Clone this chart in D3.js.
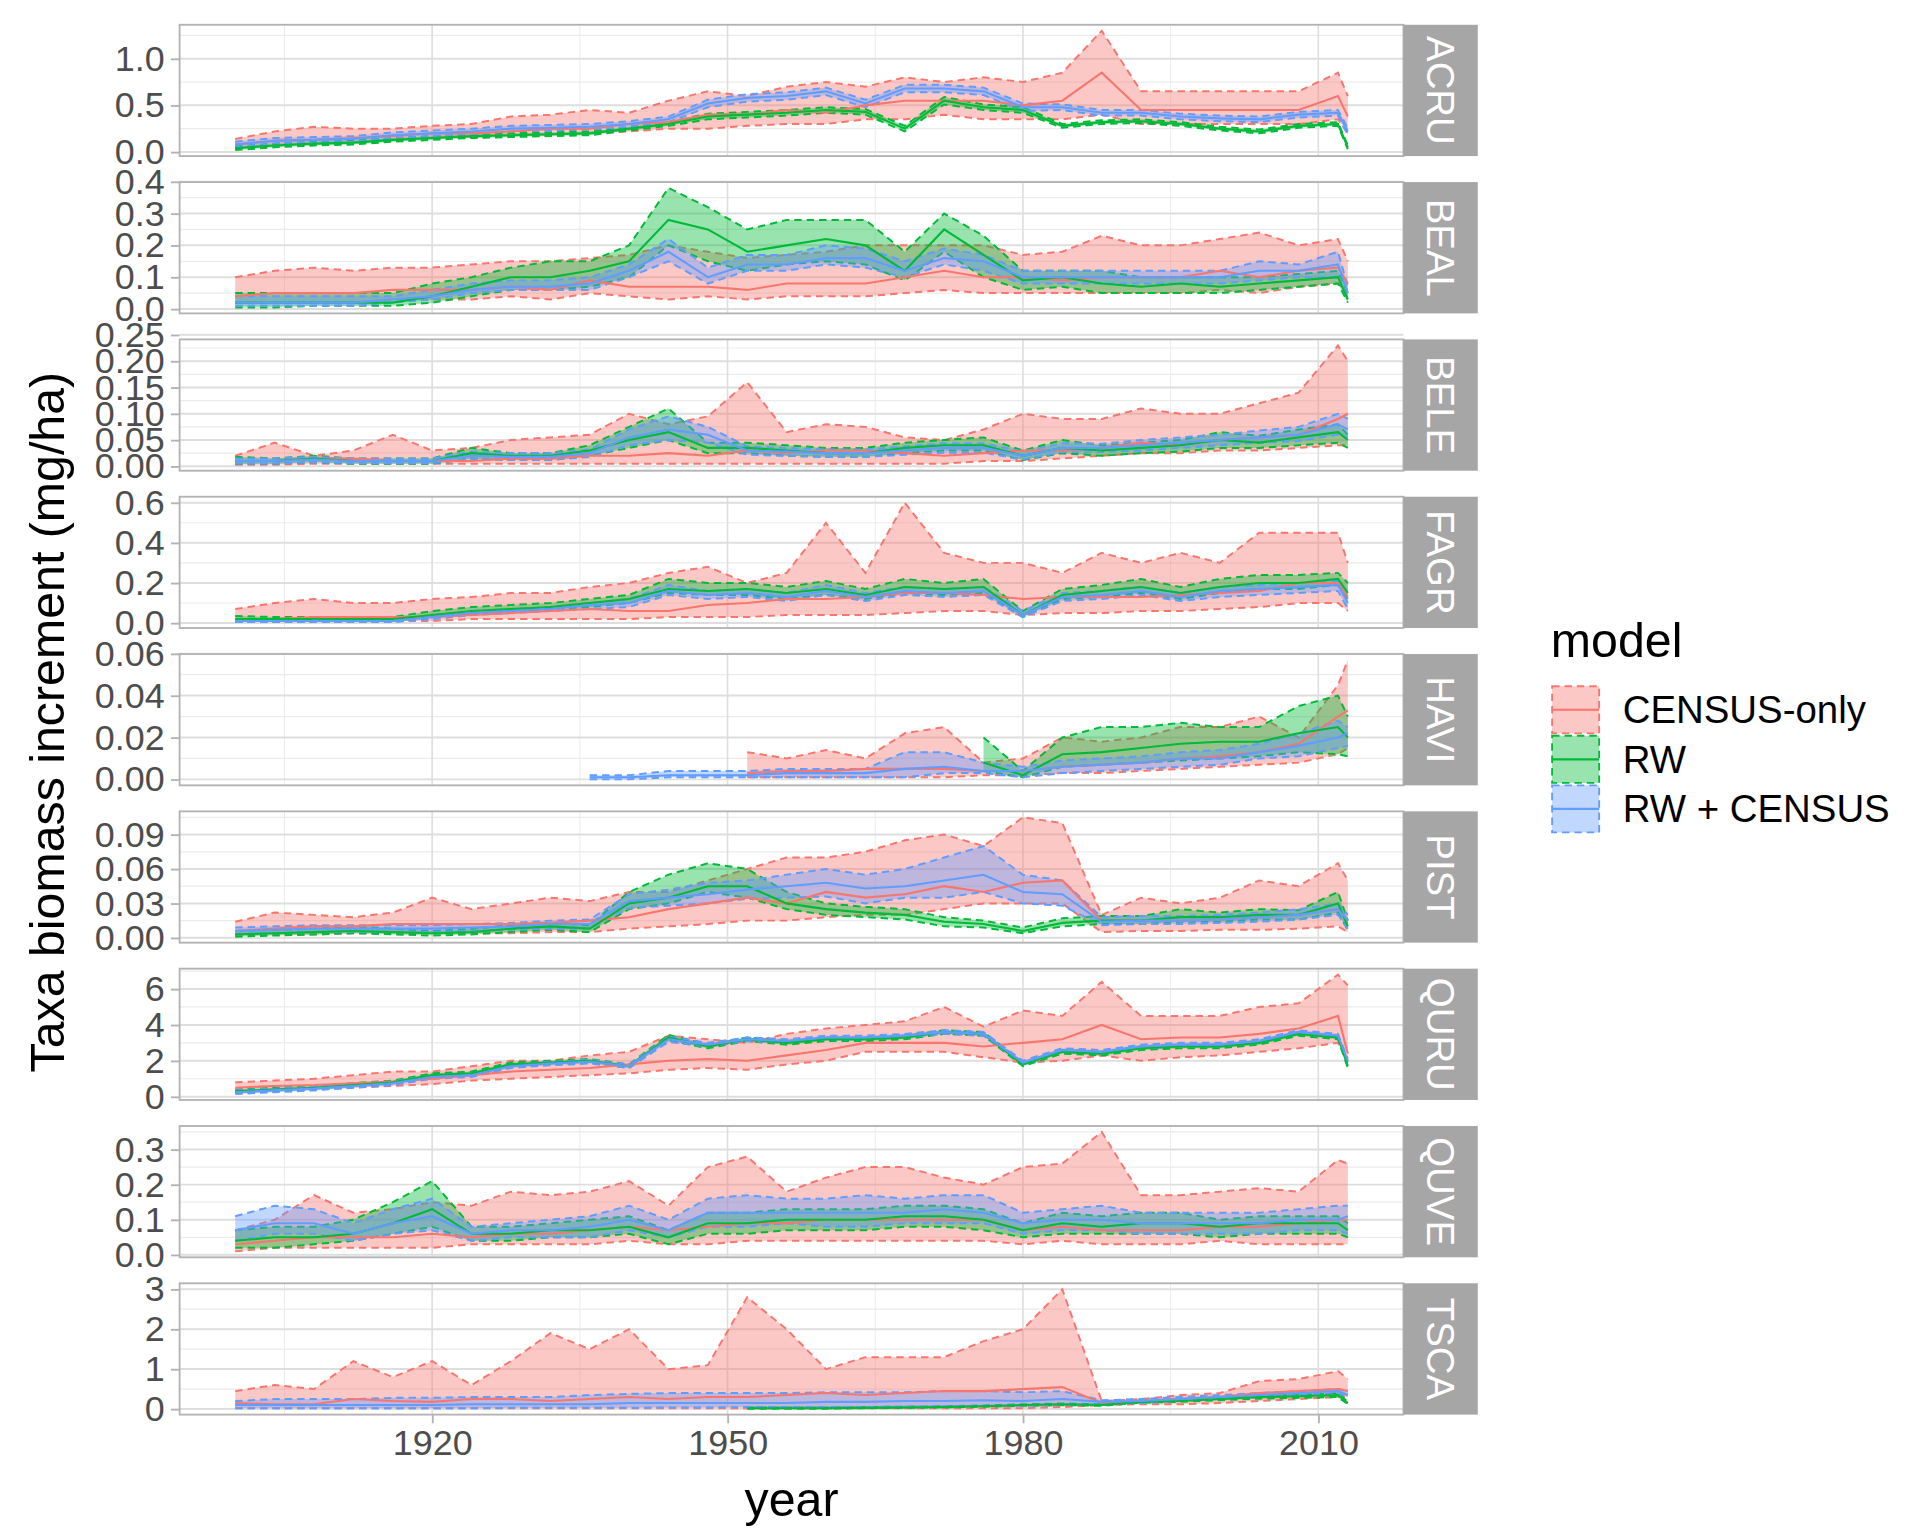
<!DOCTYPE html>
<html><head><meta charset="utf-8">
<script src="https://cdn.jsdelivr.net/npm/d3@7"></script>
<style>body{margin:0;background:#fff}text{font-family:"Liberation Sans",Arial,sans-serif}</style>
</head><body><svg id="c" width="1920" height="1536" viewBox="0 0 1550 1240"></svg>
<script>
const years=[1900,1904,1908,1912,1916,1920,1924,1928,1932,1936,1940,1944,1948,1952,1956,1960,1964,1968,1972,1976,1980,1984,1988,1992,1996,2000,2004,2008,2012,2013];
const taxa=["ACRU","BEAL","BELE","FAGR","HAVI","PIST","QURU","QUVE","TSCA"];
const models=["CENSUS-only","RW","RW + CENSUS"];
const colors=["#F8766D","#00BA38","#619CFF"];
// each: [lo, mean, hi]
const ACRU_CENSUS=[[.04,.08,.08,.1,.12,.15,.15,.17,.18,.2,.22,.25,.25,.28,.3,.3,.35,.35,.4,.35,.35,.35,.4,.3,.3,.3,.3,.3,.35,.2],
[.08,.12,.13,.15,.17,.2,.2,.22,.25,.25,.3,.32,.4,.4,.45,.42,.5,.55,.55,.55,.5,.55,.85,.45,.45,.45,.45,.45,.6,.38],
[.14,.22,.27,.25,.25,.28,.3,.38,.4,.45,.42,.55,.65,.6,.7,.75,.7,.8,.75,.8,.75,.85,1.3,.65,.65,.65,.65,.65,.85,.6]];
const ACRU_RW=[[.02,.05,.07,.08,.11,.13,.15,.16,.17,.18,.23,.28,.35,.37,.39,.42,.4,.22,.51,.45,.42,.26,.3,.31,.28,.23,.2,.26,.28,.03],
[.04,.07,.09,.1,.13,.15,.17,.18,.19,.2,.25,.3,.38,.4,.42,.45,.43,.25,.55,.48,.45,.28,.32,.33,.3,.25,.22,.28,.3,.05],
[.06,.09,.11,.12,.15,.17,.19,.2,.21,.22,.27,.32,.41,.43,.45,.48,.46,.28,.59,.51,.48,.3,.34,.35,.32,.27,.24,.3,.32,.07]];
const ACRU_BOTH=[[.05,.09,.1,.11,.15,.17,.19,.22,.23,.24,.27,.32,.48,.54,.56,.61,.48,.64,.64,.61,.44,.45,.39,.39,.35,.33,.32,.37,.39,.18],
[.08,.12,.13,.14,.18,.2,.22,.25,.26,.27,.3,.35,.52,.58,.6,.65,.52,.68,.68,.65,.48,.48,.42,.42,.38,.36,.35,.4,.42,.22],
[.11,.15,.16,.17,.21,.23,.25,.28,.29,.3,.33,.38,.56,.62,.64,.69,.56,.72,.72,.69,.52,.51,.45,.45,.41,.39,.38,.43,.45,.26]];
const BEAL_CENSUS=[[.02,.02,.02,.02,.03,.03,.03,.04,.03,.05,.04,.03,.04,.03,.04,.04,.04,.05,.06,.05,.05,.05,.05,.05,.05,.06,.05,.07,.08,.05],
[.04,.05,.05,.05,.06,.06,.06,.07,.06,.09,.07,.07,.07,.06,.08,.08,.08,.1,.12,.1,.1,.09,.1,.1,.1,.12,.1,.12,.13,.08],
[.1,.12,.13,.12,.13,.13,.14,.15,.15,.16,.17,.2,.18,.16,.17,.18,.2,.2,.2,.2,.17,.18,.23,.2,.2,.22,.24,.2,.22,.15]];
const BEAL_RW=[[.005,.005,.01,.01,.01,.02,.04,.06,.06,.07,.1,.2,.15,.12,.14,.15,.14,.09,.18,.1,.06,.07,.05,.05,.05,.05,.06,.07,.08,.02],
[.02,.02,.02,.02,.02,.04,.07,.1,.1,.12,.15,.28,.25,.18,.2,.22,.2,.12,.25,.17,.09,.1,.08,.07,.08,.07,.08,.09,.1,.03],
[.05,.05,.05,.05,.05,.08,.1,.13,.15,.15,.2,.38,.32,.25,.28,.28,.28,.18,.3,.23,.12,.12,.12,.1,.1,.1,.1,.11,.12,.05]];
const BEAL_BOTH=[[.01,.01,.01,.01,.02,.03,.05,.06,.06,.06,.1,.15,.08,.12,.12,.14,.13,.1,.14,.12,.08,.08,.08,.08,.08,.08,.09,.1,.1,.03],
[.02,.02,.02,.02,.03,.04,.06,.07,.07,.08,.12,.18,.1,.14,.14,.16,.16,.12,.16,.15,.1,.1,.1,.1,.1,.1,.12,.12,.14,.05],
[.04,.04,.04,.04,.04,.06,.08,.09,.09,.1,.14,.22,.13,.17,.17,.2,.19,.15,.19,.17,.12,.12,.12,.12,.12,.12,.15,.14,.18,.07]];
const BELE_CENSUS=[[.003,.003,.005,.005,.005,.005,.005,.005,.005,.005,.005,.005,.005,.005,.005,.005,.005,.005,.005,.01,.01,.015,.02,.025,.025,.03,.03,.035,.04,.04],
[.01,.01,.015,.015,.01,.01,.01,.015,.015,.02,.02,.025,.02,.03,.025,.03,.03,.025,.02,.025,.03,.03,.035,.045,.04,.05,.055,.06,.09,.1],
[.02,.045,.02,.03,.06,.03,.035,.05,.055,.06,.1,.08,.095,.16,.065,.08,.075,.055,.05,.07,.1,.09,.09,.11,.1,.1,.12,.14,.23,.2]];
const BELE_RW=[[.005,.005,.008,.005,.005,.005,.015,.012,.012,.02,.035,.05,.025,.025,.02,.018,.018,.025,.03,.03,.012,.025,.02,.025,.028,.035,.035,.04,.045,.035],
[.01,.01,.015,.01,.01,.01,.025,.02,.02,.03,.05,.065,.035,.035,.03,.025,.025,.035,.04,.04,.02,.035,.03,.035,.04,.05,.045,.055,.065,.05],
[.018,.015,.02,.015,.015,.015,.035,.025,.025,.04,.075,.11,.045,.045,.04,.035,.035,.045,.05,.055,.03,.05,.04,.045,.05,.065,.058,.07,.08,.06]];
const BELE_BOTH=[[.005,.005,.008,.006,.006,.006,.014,.012,.012,.018,.04,.05,.045,.022,.02,.018,.018,.022,.026,.026,.013,.027,.027,.03,.035,.04,.045,.048,.06,.055],
[.01,.01,.013,.01,.01,.01,.02,.018,.018,.025,.055,.07,.06,.03,.028,.025,.025,.03,.035,.035,.02,.035,.035,.04,.045,.05,.055,.06,.08,.07],
[.015,.015,.018,.015,.015,.015,.028,.025,.025,.032,.07,.095,.075,.038,.035,.032,.032,.038,.044,.044,.028,.044,.043,.05,.055,.06,.068,.075,.1,.09]];
const FAGR_CENSUS=[[.005,.005,.01,.01,.01,.01,.02,.02,.02,.02,.02,.03,.03,.03,.04,.04,.04,.05,.06,.06,.04,.05,.05,.06,.06,.07,.08,.1,.1,.06],
[.02,.02,.03,.03,.03,.03,.04,.05,.06,.07,.06,.06,.09,.1,.12,.12,.13,.15,.15,.14,.12,.13,.13,.13,.14,.15,.16,.2,.2,.13],
[.07,.1,.12,.1,.1,.12,.13,.15,.15,.18,.2,.25,.28,.2,.25,.5,.25,.6,.35,.3,.3,.25,.35,.3,.35,.3,.45,.45,.45,.3]];
const FAGR_RW=[[.005,.005,.005,.005,.005,.03,.05,.06,.07,.08,.1,.15,.14,.14,.12,.14,.12,.15,.14,.15,.03,.12,.13,.15,.12,.15,.17,.17,.19,.12],
[.02,.02,.02,.02,.02,.04,.06,.07,.08,.1,.12,.17,.16,.17,.15,.17,.14,.18,.17,.18,.04,.14,.16,.18,.15,.18,.2,.2,.22,.15],
[.035,.03,.03,.03,.03,.06,.08,.09,.1,.12,.14,.22,.2,.2,.18,.21,.17,.22,.2,.22,.06,.17,.19,.22,.18,.22,.24,.24,.25,.2]];
const FAGR_BOTH=[[.005,.005,.005,.005,.005,.02,.04,.05,.06,.07,.08,.14,.12,.13,.11,.14,.11,.14,.13,.14,.03,.11,.12,.14,.11,.13,.14,.15,.16,.07],
[.01,.01,.01,.01,.01,.03,.05,.06,.07,.09,.1,.16,.14,.15,.13,.16,.13,.16,.15,.16,.04,.13,.14,.16,.13,.16,.17,.18,.19,.1],
[.02,.02,.02,.02,.02,.04,.06,.07,.08,.1,.12,.19,.16,.17,.15,.19,.15,.18,.17,.18,.06,.15,.16,.18,.15,.18,.19,.2,.21,.12]];
const N9=[null,null,null,null,null,null,null,null,null];
const N13=[...N9,null,null,null,null];
const N19=[...N13,null,null,null,null,null,null];
const HAVI_CENSUS=[[...N13,.001,.001,.001,.001,.001,.001,.002,.002,.003,.003,.004,.005,.006,.007,.008,.012,.015],
[...N13,.003,.004,.004,.005,.005,.005,.004,.004,.006,.007,.008,.01,.011,.013,.017,.03,.033],
[...N13,.013,.01,.014,.01,.022,.025,.008,.01,.02,.018,.02,.025,.025,.03,.02,.045,.057]];
const HAVI_RW=[[...N19,.004,.001,.006,.007,.008,.009,.01,.011,.013,.012,.011],
[...N19,.008,.002,.012,.013,.015,.017,.018,.018,.022,.025,.02],
[...N19,.02,.004,.02,.025,.025,.027,.025,.025,.035,.04,.03]];
const HAVI_BOTH=[[...N9,.0,.0,.001,.001,.001,.001,.001,.001,.001,.003,.003,.001,.003,.004,.005,.006,.007,.01,.011,.015,.016],
[...N9,.001,.001,.002,.002,.002,.003,.003,.003,.005,.006,.004,.004,.006,.007,.008,.01,.01,.013,.016,.02,.022],
[...N9,.002,.002,.004,.004,.004,.005,.005,.005,.013,.013,.008,.006,.009,.01,.011,.013,.014,.017,.022,.028,.025]];
const PIST_CENSUS=[[.002,.003,.003,.004,.004,.004,.004,.004,.005,.005,.008,.01,.012,.015,.015,.018,.02,.02,.025,.03,.03,.03,.005,.006,.006,.007,.007,.008,.01,.005],
[.006,.008,.01,.01,.012,.012,.012,.012,.013,.015,.018,.025,.03,.035,.03,.04,.035,.038,.045,.04,.048,.05,.015,.015,.015,.016,.018,.02,.025,.015],
[.014,.022,.02,.018,.022,.035,.025,.03,.035,.032,.04,.04,.05,.06,.07,.07,.075,.085,.09,.08,.105,.1,.02,.035,.03,.035,.05,.045,.065,.05]];
const PIST_RW=[[.001,.002,.003,.004,.003,.002,.003,.005,.007,.005,.025,.03,.04,.035,.025,.02,.018,.016,.01,.009,.004,.01,.012,.012,.014,.014,.016,.016,.022,.007],
[.003,.004,.005,.006,.005,.004,.005,.008,.01,.008,.03,.035,.045,.045,.03,.025,.022,.02,.014,.012,.006,.013,.015,.015,.018,.018,.02,.02,.03,.01],
[.006,.007,.008,.01,.008,.006,.008,.011,.013,.011,.04,.055,.065,.06,.04,.03,.027,.025,.018,.015,.009,.017,.019,.019,.025,.022,.025,.024,.04,.015]];
const PIST_BOTH=[[.003,.004,.005,.005,.005,.005,.006,.007,.008,.008,.026,.028,.03,.034,.035,.036,.03,.035,.035,.04,.03,.028,.011,.012,.012,.013,.014,.016,.02,.008],
[.006,.007,.008,.008,.008,.008,.009,.01,.012,.012,.032,.035,.038,.042,.045,.048,.043,.045,.05,.055,.04,.038,.014,.015,.015,.016,.018,.02,.025,.015],
[.009,.01,.011,.011,.011,.011,.012,.013,.015,.016,.038,.042,.048,.05,.055,.06,.055,.06,.07,.08,.055,.05,.018,.019,.019,.02,.022,.025,.03,.02]];
const QURU_CENSUS=[[.2,.3,.4,.5,.6,.7,.9,1.0,1.1,1.2,1.3,1.5,1.6,1.5,1.8,2.0,2.5,2.5,2.5,2.2,1.9,2.0,2.3,2.0,2.2,2.3,2.5,2.7,3.0,2.0],
[.5,.6,.65,.75,.85,1.0,1.2,1.4,1.5,1.6,1.8,2.0,2.1,2.0,2.3,2.6,3.0,3.0,3.0,2.8,3.0,3.2,4.0,3.2,3.3,3.3,3.5,3.8,4.5,2.4],
[.8,.9,1.0,1.2,1.4,1.4,1.7,2.0,2.0,2.3,2.5,3.4,3.2,3.0,3.5,3.8,4.0,4.2,5.0,3.9,4.8,4.5,6.4,4.5,4.5,4.5,5.0,5.2,6.8,6.2]];
const QURU_RW=[[.2,.3,.4,.55,.7,1.1,1.2,1.7,1.8,1.9,1.6,3.15,2.7,3.1,2.9,3.1,3.1,3.2,3.5,3.4,1.7,2.4,2.3,2.6,2.7,2.7,2.9,3.4,3.2,1.6],
[.3,.4,.5,.65,.8,1.2,1.3,1.8,1.9,2.0,1.7,3.3,2.8,3.2,3.0,3.2,3.2,3.3,3.6,3.5,1.8,2.5,2.4,2.7,2.8,2.8,3.0,3.5,3.3,1.7],
[.4,.5,.6,.75,.9,1.3,1.4,1.9,2.0,2.1,1.8,3.45,2.9,3.3,3.1,3.3,3.3,3.4,3.7,3.6,1.9,2.6,2.5,2.8,2.9,2.9,3.1,3.6,3.4,1.8]];
const QURU_BOTH=[[.15,.25,.35,.5,.65,1.0,1.1,1.6,1.75,1.85,1.6,3.05,2.8,3.1,3.0,3.2,3.2,3.3,3.5,3.4,1.8,2.5,2.4,2.7,2.8,2.8,3.0,3.5,3.3,1.9],
[.25,.35,.45,.6,.75,1.1,1.2,1.7,1.85,1.95,1.7,3.2,2.9,3.2,3.1,3.3,3.3,3.4,3.6,3.5,1.9,2.6,2.5,2.8,2.9,2.9,3.1,3.6,3.4,2.0],
[.35,.45,.55,.7,.85,1.2,1.3,1.8,1.95,2.05,1.8,3.35,3.0,3.3,3.2,3.4,3.4,3.5,3.7,3.6,2.0,2.7,2.6,2.9,3.0,3.0,3.2,3.7,3.5,2.1]];
const QUVE_CENSUS=[[.01,.02,.02,.02,.02,.02,.03,.03,.03,.03,.04,.03,.03,.04,.04,.04,.04,.04,.04,.04,.03,.04,.03,.03,.03,.04,.03,.03,.03,.03],
[.03,.04,.05,.05,.05,.06,.05,.06,.06,.07,.08,.07,.08,.09,.09,.1,.1,.1,.1,.1,.07,.08,.07,.07,.07,.08,.08,.09,.1,.1],
[.07,.1,.17,.12,.13,.15,.14,.18,.17,.18,.21,.14,.25,.28,.18,.22,.25,.25,.22,.2,.25,.26,.35,.17,.17,.18,.19,.18,.27,.26]];
const QUVE_RW=[[.02,.02,.03,.04,.06,.08,.04,.04,.05,.05,.06,.03,.06,.06,.07,.07,.07,.08,.08,.07,.05,.06,.06,.06,.06,.05,.06,.06,.06,.05],
[.04,.05,.05,.06,.09,.13,.06,.06,.07,.07,.08,.05,.09,.09,.1,.1,.1,.11,.11,.1,.07,.09,.08,.09,.09,.08,.09,.09,.09,.07],
[.07,.08,.08,.1,.15,.21,.08,.08,.09,.1,.11,.07,.12,.12,.13,.13,.13,.14,.14,.13,.09,.12,.11,.12,.12,.1,.11,.11,.11,.09]];
const QUVE_BOTH=[[.04,.06,.06,.04,.06,.07,.04,.05,.05,.05,.07,.05,.08,.08,.09,.08,.08,.09,.09,.09,.06,.07,.07,.06,.06,.06,.06,.07,.07,.06],
[.07,.09,.09,.06,.09,.11,.06,.07,.07,.08,.1,.07,.12,.12,.12,.12,.12,.12,.13,.12,.09,.1,.1,.09,.09,.09,.09,.1,.1,.11],
[.11,.14,.13,.09,.13,.16,.08,.09,.1,.11,.14,.1,.16,.17,.16,.16,.17,.16,.17,.17,.12,.13,.14,.12,.12,.12,.12,.13,.14,.14]];
const TSCA_CENSUS=[[.02,.02,.02,.02,.02,.02,.02,.02,.02,.02,.02,.02,.02,.02,.02,.02,.02,.02,.02,.02,.02,.05,.1,.12,.12,.15,.2,.25,.3,.3],
[.15,.12,.12,.25,.2,.18,.25,.25,.2,.25,.3,.25,.3,.3,.35,.4,.35,.4,.45,.45,.5,.55,.15,.2,.25,.3,.4,.45,.5,.45],
[.45,.6,.5,1.2,.8,1.2,.6,1.2,1.9,1.5,2.0,1.0,1.1,2.8,2.0,1.0,1.3,1.3,1.3,1.7,2.0,3.0,.2,.25,.35,.4,.7,.75,.95,.75]];
const TSCA_RW=[[...N13,.01,.01,.01,.02,.03,.04,.06,.08,.1,.08,.16,.18,.22,.26,.28,.3,.12],
[...N13,.02,.02,.02,.03,.04,.05,.07,.1,.12,.1,.18,.2,.25,.3,.32,.35,.15],
[...N13,.04,.04,.04,.05,.06,.07,.09,.12,.14,.12,.2,.22,.28,.34,.36,.4,.18]];
const TSCA_BOTH=[[.02,.02,.02,.02,.02,.02,.02,.03,.03,.03,.03,.04,.04,.05,.05,.05,.05,.06,.07,.08,.08,.1,.12,.15,.2,.25,.3,.35,.4,.3],
[.1,.1,.1,.1,.1,.1,.12,.12,.12,.12,.15,.15,.15,.15,.15,.18,.18,.2,.2,.22,.2,.25,.18,.2,.25,.3,.35,.4,.45,.35],
[.2,.25,.25,.25,.28,.28,.3,.3,.3,.35,.38,.4,.4,.4,.4,.42,.42,.42,.45,.45,.42,.45,.22,.25,.3,.35,.4,.45,.5,.45]];
const seriesByTaxon=[[ACRU_CENSUS,ACRU_RW,ACRU_BOTH],[BEAL_CENSUS,BEAL_RW,BEAL_BOTH],[BELE_CENSUS,BELE_RW,BELE_BOTH],[FAGR_CENSUS,FAGR_RW,FAGR_BOTH],[HAVI_CENSUS,HAVI_RW,HAVI_BOTH],[PIST_CENSUS,PIST_RW,PIST_BOTH],[QURU_CENSUS,QURU_RW,QURU_BOTH],[QUVE_CENSUS,QUVE_RW,QUVE_BOTH],[TSCA_CENSUS,TSCA_RW,TSCA_BOTH]];
const yTicks=[[0,0.5,1],[0,.1,.2,.3,.4],[0,.05,.1,.15,.2,.25],[0,.2,.4,.6],[0,.02,.04,.06],[0,.03,.06,.09],[0,2,4,6],[0,.1,.2,.3],[0,1,2,3]];
const yDigits=[1,1,2,1,2,2,0,1,0];
const xTicks=[1920,1950,1980,2010];

const svg=d3.select("#c");
const L=145,R=1133,SW=60,PH=106,STEP=127,TOP=20;
const x=d3.scaleLinear().domain([1900-5.65,2013+5.65]).range([L,R]);
const grid="#ebebeb",border="#b3b3b3";
taxa.forEach((t,i)=>{
  const y0=TOP+i*STEP, y1=y0+PH;
  const ser=seriesByTaxon[i];
  const all=ser.flatMap(s=>s.flat()).filter(v=>v!=null);
  const mn=d3.min(all),mx=d3.max(all),pad=(mx-mn)*0.05;
  const y=d3.scaleLinear().domain([mn-pad,mx+pad]).range([y1,y0]);
  const g=svg.append("g");
  const tk=yTicks[i],st=tk[1]-tk[0];
  const minorY=[];for(let v=tk[0]-st/2;v<=mx+pad;v+=st)if(v>=mn-pad)minorY.push(v);
  g.selectAll(".my").data(minorY).join("line").attr("x1",L).attr("x2",R).attr("y1",d=>y(d)).attr("y2",d=>y(d)).attr("stroke",grid).attr("stroke-width",1);
  g.selectAll(".mx").data([1905,1935,1965,1995]).join("line").attr("y1",y0).attr("y2",y1).attr("x1",d=>x(d)).attr("x2",d=>x(d)).attr("stroke",grid).attr("stroke-width",0.8);
  g.selectAll(".gy").data(tk).join("line").attr("x1",L).attr("x2",R).attr("y1",d=>y(d)).attr("y2",d=>y(d)).attr("stroke","#dedede").attr("stroke-width",1.6);
  g.selectAll(".gx").data(xTicks).join("line").attr("y1",y0).attr("y2",y1).attr("x1",d=>x(d)).attr("x2",d=>x(d)).attr("stroke","#dedede").attr("stroke-width",1.3);
  const clip="cl"+i;
  svg.append("clipPath").attr("id",clip).append("rect").attr("x",L).attr("y",y0).attr("width",R-L).attr("height",PH);
  const dg=g.append("g").attr("clip-path",`url(#${clip})`);
  ser.forEach((s,m)=>{
    const pts=years.map((yr,k)=>({yr,lo:s[0][k],mid:s[1][k],hi:s[2][k]})).filter(d=>d.mid!=null);
    dg.append("path").datum(pts).attr("d",d3.area().x(d=>x(d.yr)).y0(d=>y(d.lo)).y1(d=>y(d.hi))).attr("fill",colors[m]).attr("fill-opacity",0.4);
    ["lo","hi"].forEach(k=>dg.append("path").datum(pts).attr("d",d3.line().x(d=>x(d.yr)).y(d=>y(d[k]))).attr("fill","none").attr("stroke",colors[m]).attr("stroke-width",1.6).attr("stroke-dasharray","6,4"));
  });
  ser.forEach((s,m)=>{
    const pts=years.map((yr,k)=>({yr,mid:s[1][k]})).filter(d=>d.mid!=null);
    dg.append("path").datum(pts).attr("d",d3.line().x(d=>x(d.yr)).y(d=>y(d.mid))).attr("fill","none").attr("stroke",colors[m]).attr("stroke-width",1.7);
  });
  g.append("rect").attr("x",L).attr("y",y0).attr("width",R-L).attr("height",PH).attr("fill","none").attr("stroke",border).attr("stroke-width",1.5);
  const ax=g.append("g").attr("transform",`translate(${L},0)`).call(d3.axisLeft(y).tickValues(tk).tickSize(7).tickPadding(5).tickFormat(d3.format(`.${yDigits[i]}f`)));
  ax.select(".domain").remove();
  ax.selectAll("line").attr("stroke",border).attr("stroke-width",1.5);
  ax.selectAll("text").attr("font-size",29).attr("fill","#4d4d4d").attr("font-family","Liberation Sans, Arial, sans-serif");
  g.append("rect").attr("x",R).attr("y",y0).attr("width",SW).attr("height",PH).attr("fill","#a6a6a6");
  g.append("text").attr("transform",`translate(${R+SW/2},${y0+PH/2}) rotate(90)`).attr("text-anchor","middle").attr("dy","0.35em").attr("fill","#fff").attr("font-size",31).text(t);
  if(i===taxa.length-1){
    const xa=g.append("g").attr("transform",`translate(0,${y1})`).call(d3.axisBottom(x).tickValues(xTicks).tickSize(7).tickPadding(5).tickFormat(d3.format("d")));
    xa.select(".domain").remove();
    xa.selectAll("line").attr("stroke",border).attr("stroke-width",1.5);
    xa.selectAll("text").attr("font-size",29).attr("fill","#4d4d4d").attr("font-family","Liberation Sans, Arial, sans-serif");
  }
});
svg.append("text").attr("x",(L+R)/2).attr("y",1224).attr("text-anchor","middle").attr("font-size",39).text("year");
svg.append("text").attr("transform","translate(52,583) rotate(-90)").attr("text-anchor","middle").attr("font-size",39).text("Taxa biomass increment (mg/ha)");
const lg=svg.append("g").attr("transform","translate(1252,0)");
lg.append("text").attr("x",0).attr("y",530).attr("font-size",39).text("model");
models.forEach((m,k)=>{
  const ky=553+k*40;
  lg.append("rect").attr("x",1).attr("y",ky+1).attr("width",38).attr("height",38).attr("fill",colors[k]).attr("fill-opacity",0.4).attr("stroke",colors[k]).attr("stroke-width",1.5).attr("stroke-dasharray","6,4");
  lg.append("line").attr("x1",1).attr("x2",39).attr("y1",ky+20).attr("y2",ky+20).attr("stroke",colors[k]).attr("stroke-width",1.7);
  lg.append("text").attr("x",58).attr("y",ky+20).attr("dy","0.35em").attr("font-size",31).text(m);
});
</script></body></html>
